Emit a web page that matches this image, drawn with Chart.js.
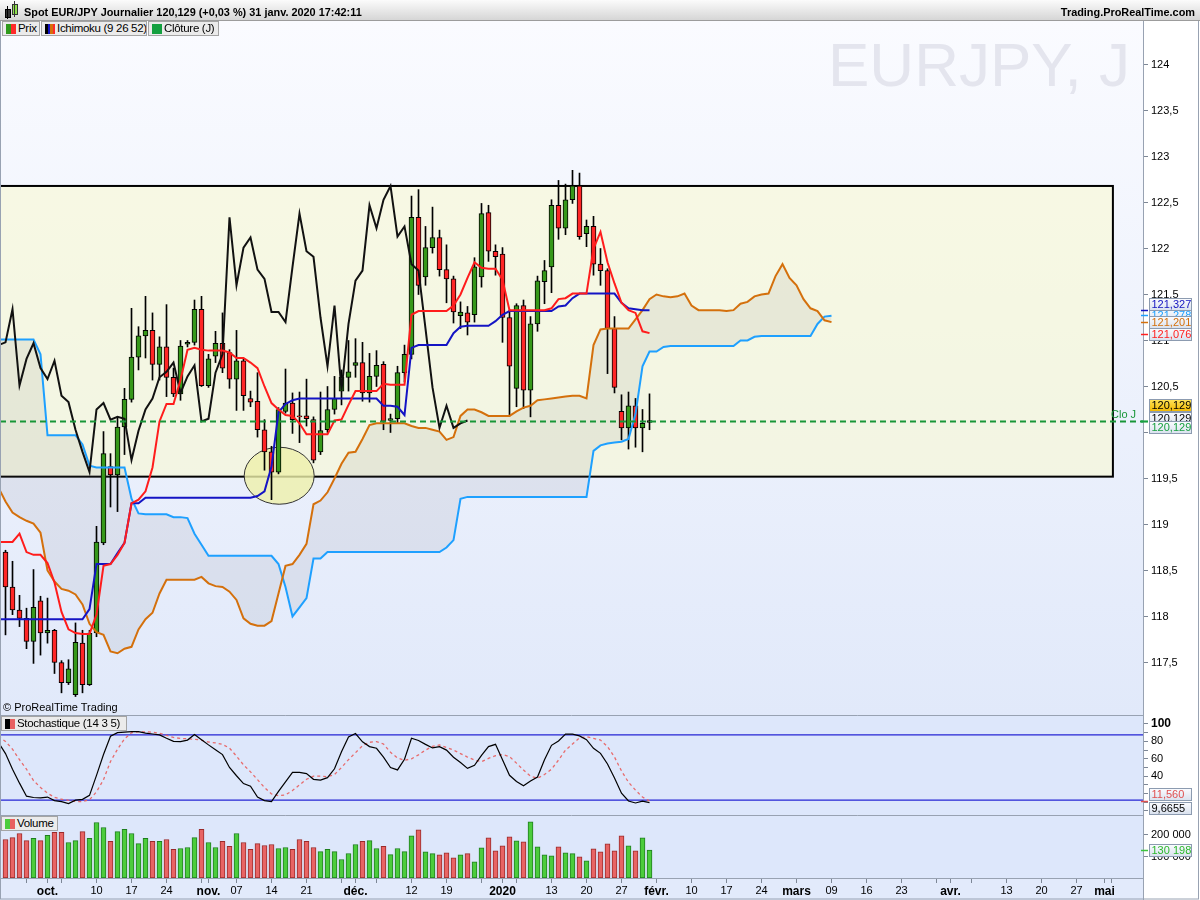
<!DOCTYPE html>
<html><head><meta charset="utf-8">
<script src="https://cdn.jsdelivr.net/npm/chart.js@4.4.1/dist/chart.umd.min.js"></script>
<style>
html,body{margin:0;padding:0;background:#fff;}
body{width:1200px;height:900px;overflow:hidden;position:relative;font-family:"Liberation Sans",Arial,Helvetica,sans-serif;}
#c{position:absolute;left:0;top:0;}
.ov{position:absolute;white-space:nowrap;z-index:5;}
#titlebar{left:0;top:0;width:1200px;height:21px;background:linear-gradient(#fbfbfb,#d6d6d6);border-bottom:1px solid #9c9c9c;box-sizing:border-box;}
#ttext{left:24px;top:2px;font-size:10.9px;font-weight:bold;line-height:20px;color:#000;}
#tright{right:5px;top:2px;font-size:10.9px;font-weight:bold;line-height:20px;color:#000;}
.chip{position:absolute;height:15px;box-sizing:border-box;background:#ebebeb;border:1px solid #a4a4a4;font-size:11.5px;letter-spacing:-0.3px;line-height:13px;color:#000;padding-left:15px;padding-right:2px;z-index:5;white-space:nowrap;overflow:hidden;}
.ico{position:absolute;left:3px;top:2px;width:10px;height:10px;}
#wm{left:828px;top:34px;font-size:62px;line-height:1;color:#e4e5ee;font-weight:normal;}
#copy{left:3px;top:701px;font-size:11px;line-height:13px;color:#000;}
</style>
</head><body>
<canvas id="c" width="1200" height="900"></canvas>
<div id="titlebar" class="ov">
  <div style="position:absolute;left:5px;top:9px;width:4px;height:7px;background:#333;border:1px solid #000;"></div>
  <div style="position:absolute;left:7px;top:6px;width:1px;height:13px;background:#000;"></div>
  <div style="position:absolute;left:12px;top:4px;width:4px;height:9px;background:#8ee04e;border:1px solid #333;"></div>
  <div style="position:absolute;left:14px;top:1px;width:1px;height:16px;background:#333;"></div>
</div>
<div id="ttext" class="ov">Spot EUR/JPY Journalier 120,129 (+0,03 %) 31 janv. 2020 17:42:11</div>
<div id="tright" class="ov">Trading.ProRealTime.com</div>
<div class="chip" style="left:2px;top:21px;width:38px;"><div class="ico" style="background:linear-gradient(90deg,#2f9a1c 50%,#ff2a2a 50%);"></div>Prix</div>
<div class="chip" style="left:41px;top:21px;width:106px;"><div class="ico" style="background:linear-gradient(90deg,#000 25%,#1212c4 25%,#1212c4 50%,#d4700c 50%,#d4700c 75%,#ff2a2a 75%);"></div>Ichimoku (9 26 52)</div>
<div class="chip" style="left:148px;top:21px;width:71px;"><div class="ico" style="background:#14a040;"></div>Clôture (J)</div>
<div id="wm" class="ov">EURJPY, J</div>
<div id="copy" class="ov">© ProRealTime Trading</div>
<div class="chip" style="left:1px;top:716px;width:126px;"><div class="ico" style="background:linear-gradient(90deg,#000 50%,#e86060 50%);"></div>Stochastique (14 3 5)</div>
<div class="chip" style="left:1px;top:816px;width:57px;"><div class="ico" style="background:linear-gradient(90deg,#4ccc3c 50%,#e86060 50%);"></div>Volume</div>
<script>
// ---------------- DATA ----------------
// daily candles, index 0 = 23 sept. 2019 ... index 92 = 31 janv. 2020
const opens = [118.70,118.32,118.07,117.98,117.73,118.17,117.82,117.85,117.50,117.28,
117.15,117.71,117.26,117.82,118.80,119.63,119.54,120.06,120.36,120.82,
121.05,121.11,120.74,120.93,120.60,120.42,120.96,120.98,121.34,120.51,
120.83,120.97,120.87,120.58,120.78,120.37,120.34,120.03,119.79,119.57,
120.23,120.32,120.18,120.18,120.14,119.79,120.03,120.25,120.45,120.60,
120.73,120.76,120.43,120.61,120.74,120.13,120.15,120.65,120.85,122.34,
121.69,122.01,122.12,121.77,121.67,121.27,121.30,121.28,121.69,122.39,
121.97,121.94,121.25,120.48,121.38,120.46,121.18,121.64,121.80,122.47,
122.22,122.53,122.68,122.16,122.24,121.83,121.76,121.13,120.23,120.05,
120.29,120.05,120.11];
const highs = [118.72,118.60,118.23,118.09,118.51,118.22,118.20,117.86,117.52,117.53,
117.93,117.85,117.85,118.98,120.01,119.77,120.17,120.48,121.35,121.15,
121.48,121.30,121.04,121.39,120.70,121.00,121.00,121.44,121.48,120.85,
121.10,121.30,120.90,121.11,120.80,120.45,120.65,120.14,119.85,120.27,
120.69,120.43,120.44,120.58,120.17,120.44,120.50,120.61,120.68,121.00,
121.02,120.98,120.86,120.89,120.77,120.20,120.72,120.95,122.57,122.64,
122.24,122.45,122.20,122.04,121.70,121.42,121.37,121.90,122.49,122.47,
122.04,122.01,121.33,121.40,121.44,121.26,121.70,121.87,122.53,122.74,
122.70,122.85,122.82,122.31,122.35,122.00,121.78,121.26,120.41,120.44,
120.37,120.25,120.42];
const lows = [117.80,118.02,117.89,117.65,117.49,117.58,117.71,117.38,117.17,117.26,
117.13,117.17,117.25,117.78,118.78,119.19,119.14,119.76,120.33,120.68,
120.81,120.57,120.57,120.39,120.39,120.35,120.93,120.95,120.50,120.49,
120.76,120.65,120.48,120.24,120.24,120.28,119.95,119.59,119.27,119.55,
120.21,119.99,119.89,120.07,119.67,119.76,120.00,120.20,120.30,120.45,
120.60,120.34,120.33,120.50,120.03,120.00,120.10,120.55,120.80,121.50,
121.60,121.95,121.70,121.41,121.19,121.13,121.06,121.20,121.58,121.86,
121.71,120.98,120.18,120.28,120.26,120.17,121.10,121.40,121.52,122.10,
122.15,122.49,122.10,122.02,121.71,121.60,120.64,120.43,119.92,119.82,
119.84,119.79,120.03];
const closes = [118.32,118.07,117.98,117.73,118.10,117.82,117.85,117.50,117.28,117.43,
117.72,117.26,117.82,118.81,119.77,119.54,120.06,120.36,120.82,121.05,
121.11,120.74,120.93,120.60,120.42,120.94,120.98,121.34,120.51,120.80,
120.97,120.70,120.58,120.78,120.40,120.33,120.03,119.79,119.57,120.25,
120.32,120.14,120.17,120.15,119.70,120.02,120.25,120.37,120.60,120.66,
120.76,120.43,120.61,120.73,120.12,120.15,120.65,120.85,122.34,121.60,
122.01,122.12,121.77,121.67,121.31,121.31,121.20,121.80,122.38,121.97,
121.91,121.25,120.72,121.38,120.46,121.18,121.65,121.76,122.47,122.22,
122.53,122.68,122.13,122.24,121.83,121.76,121.13,120.49,120.05,120.29,
120.05,120.10,120.129];
// Ichimoku and stochastic lines; they start one session
// before the first visible candle (index -1), the segment entering at the left edge.
const tenkan = [118.81,
118.81,118.81,118.90,118.70,118.67,118.67,118.58,118.37,118.05,117.86,
117.82,117.81,117.81,118.02,118.55,118.57,118.67,118.80,119.23,119.27,
119.36,119.62,120.12,120.31,120.31,120.57,120.90,120.92,120.90,120.89,
120.89,120.89,120.87,120.81,120.81,120.76,120.70,120.50,120.32,120.25,
120.19,120.18,120.10,119.98,119.98,119.98,119.98,120.13,120.14,120.30,
120.45,120.45,120.45,120.45,120.53,120.52,120.52,120.52,121.28,121.32,
121.32,121.32,121.32,121.32,121.38,121.50,121.68,121.85,121.79,121.78,
121.78,121.66,121.33,121.33,121.33,121.33,121.33,121.33,121.35,121.45,
121.46,121.51,121.51,121.51,122.00,122.18,121.85,121.62,121.41,121.33,
121.30,121.10,121.08];
const kijun = [117.97,
117.97,117.97,117.97,117.97,117.97,117.97,117.97,117.97,117.97,117.97,
117.97,117.97,118.08,118.57,118.57,118.57,118.69,118.80,119.23,119.23,
119.29,119.29,119.29,119.29,119.29,119.29,119.29,119.29,119.29,119.29,
119.29,119.29,119.29,119.29,119.29,119.29,119.31,119.36,119.63,120.22,
120.31,120.35,120.37,120.37,120.37,120.37,120.37,120.37,120.37,120.37,
120.37,120.37,120.37,120.37,120.29,120.29,120.28,120.19,120.92,120.95,
120.95,120.95,120.95,120.95,121.08,121.15,121.16,121.16,121.16,121.16,
121.21,121.28,121.32,121.32,121.32,121.32,121.32,121.32,121.32,121.37,
121.38,121.46,121.51,121.51,121.51,121.51,121.51,121.51,121.41,121.35,
121.34,121.33,121.33];
// chikou: index -1 to 66
const chikou = [120.95,
120.98,121.34,120.51,120.80,120.97,120.70,120.58,120.78,120.40,120.33,
120.03,119.79,119.57,120.25,120.32,120.14,120.17,120.15,119.70,120.02,
120.25,120.37,120.60,120.66,120.76,120.43,120.61,120.73,120.12,120.15,
120.65,120.85,122.34,121.60,122.01,122.12,121.77,121.67,121.31,121.31,
121.20,121.80,122.38,121.97,121.91,121.25,120.72,121.38,120.46,121.18,
121.65,121.76,122.47,122.22,122.53,122.68,122.13,122.24,121.83,121.76,
121.13,120.49,120.05,120.29,120.05,120.10,120.13];
// senkou spans: index -1 to 118 (26 sessions ahead)
const senkouA = [119.40,
119.25,119.13,119.08,119.04,119.01,118.91,118.50,118.38,118.30,118.28,
118.24,118.13,117.92,117.83,117.80,117.62,117.60,117.65,117.67,117.86,
117.97,118.04,118.25,118.40,118.40,118.40,118.40,118.40,118.43,118.36,
118.33,118.32,118.27,118.18,117.98,117.92,117.90,117.90,117.95,118.25,
118.55,118.57,118.67,118.79,119.22,119.26,119.35,119.50,119.66,119.78,
119.79,119.93,120.08,120.10,120.10,120.10,120.10,120.10,120.07,120.05,
120.05,120.03,120.01,119.92,119.95,120.18,120.25,120.25,120.22,120.18,
120.18,120.18,120.18,120.23,120.27,120.29,120.35,120.36,120.37,120.38,
120.39,120.40,120.40,120.37,120.95,121.12,121.13,121.13,121.13,121.13,
121.23,121.33,121.45,121.50,121.48,121.47,121.48,121.51,121.38,121.33,
121.33,121.33,121.33,121.32,121.33,121.40,121.42,121.48,121.50,121.51,
121.70,121.83,121.68,121.60,121.45,121.35,121.32,121.22,121.20];
const senkouB = [121.01,
121.01,121.01,121.01,121.01,121.01,120.85,119.97,119.97,119.97,119.97,
119.97,119.87,119.64,119.62,119.62,119.62,119.62,119.62,119.28,119.12,
119.11,119.11,119.11,119.11,119.08,119.08,119.07,118.90,118.78,118.66,
118.66,118.66,118.66,118.66,118.66,118.66,118.66,118.66,118.66,118.57,
118.32,118.00,118.10,118.20,118.63,118.63,118.70,118.70,118.70,118.70,
118.70,118.70,118.70,118.70,118.70,118.70,118.70,118.70,118.70,118.70,
118.70,118.70,118.70,118.75,118.83,119.28,119.30,119.30,119.30,119.30,
119.30,119.30,119.30,119.30,119.30,119.30,119.30,119.30,119.30,119.30,
119.30,119.30,119.30,119.30,119.80,119.86,119.88,119.89,119.90,119.93,
120.20,120.72,120.88,120.88,120.93,120.94,120.94,120.94,120.94,120.94,
120.94,120.94,120.94,120.94,120.94,121.00,121.00,121.04,121.05,121.05,
121.05,121.05,121.05,121.05,121.05,121.05,121.18,121.26,121.27];
// stochastic (14 3 5), index -1 to 92
const stochK = [78.6,
66,48,32,17,15.5,15,16,12,10.7,8.5,
12.5,13.4,18,41,65,86,90,90.7,91.2,91.2,
89.5,88.5,87.5,83.6,80,79.7,81.5,88,82,76,
70.5,64.8,50,40.5,31.5,28.5,16,12,10.8,22.5,
33.5,44.3,44.3,43,36.4,35.6,38.3,48.5,68,85,
89,79.5,74,72.1,62,50,47.2,59.5,83.6,81,
76.6,72.5,73.9,70,61.8,55.8,49,52.5,64,74,
76.6,59,41,34,29,34.5,39,59,75.5,80.5,
88.5,88.3,86.3,82,72,66.3,54,38,20.5,11.5,
9.2,11.3,9.6655];
const stochD = [85.7,
80,71,59,48,35,27,20.5,15.7,13.5,12.3,
11,10.8,13,22,36,57,71,83,90,91,
91,90.5,89.4,87,84.5,83.4,83,82.5,81.5,79.3,
78.3,76.5,72.3,63,53,45,36,27,19.5,17.5,
18.5,23.5,30,36.5,40,40,39.4,42,50,59,
67,75,79,79.7,77,67.5,61,58.3,60,64.5,
70,74.3,75.9,73,70,66,62,58.5,56.7,60.5,
63.5,65,62.5,55,47,40,37.6,42,48,58.5,
70,77,84,85.4,83.5,81.5,74,62,46,33,
24,16,11.56];
const stochLevels = [87.5, 12.6];
// volume (units), index 0 to 92
const volume = [179000,188000,207000,174000,184000,174000,198000,212000,212000,165000,
174000,216000,184000,258000,235000,170000,216000,226000,207000,160000,
184000,170000,170000,179000,133000,137000,142000,188000,226000,165000,
142000,170000,147000,207000,165000,133000,160000,151000,156000,137000,
142000,133000,179000,170000,142000,123000,133000,123000,86000,114000,
156000,170000,174000,137000,147000,109000,137000,123000,196000,224000,
122000,113000,108000,117000,94000,108000,113000,75000,140000,187000,
126000,150000,192000,173000,168000,261000,145000,108000,103000,145000,
117000,113000,99000,80000,136000,122000,159000,126000,196000,150000,
126000,187000,130198];
// axis ticks (session index) and their labels
const xTickIdx = [3,6,8,13,18,23,28,29,33,38,43,48,50,53,58,63,68,71,73,78,83,88,93,98,103,108,113,118,123,128,133,135,138,143,148,153,157,158];
const xTickText = ['','oct.','','10','17','24','','nov.','07','14','21','','déc.','','12','19','','2020','','13','20','27','févr.','10','17','24','mars','09','16','23','','avr.','','13','20','27','mai',''];
const monthIdx = [6,29,50,71,93,113,135,157];
const priceTicks = [117.5,118,118.5,119,119.5,120,120.5,121,121.5,122,122.5,123,123.5,124];
const stochTicks = [0,10,20,30,40,50,60,70,80,90,100];
const stochLabeled = [40,60,80,100];
const volTicks = [100000,200000];
// drawn objects (data units)
const zoneX = [-0.9, 158.2];
const zonePrice = [119.52, 122.68];
const ellipseCenter = [39.1, 119.53];
const ellipseRadius = [5.0, 0.31];
const lastClose = 120.129;
// right-axis value tags
const tagTexts  = ['121,278','121,327','121,201','121,076','120,129','120,129','120,129'];
const tagValues = [121.278, 121.327, 121.201, 121.076, 120.129, 120.129, 120.129];
const tagColors = ['#1ea0ff','#1414c0','#d4700c','#ff2020','#000','#000','#18a040'];
const tagShift  = [0,-6,0,0,-3,-16,6];
const stochTagTexts = ['11,560','9,6655'];
const stochTagValues = [11.56, 9.6655];
const volTagText = '130 198';

// ---------------- CHART ----------------
const FONT = '"Liberation Sans", Arial, Helvetica, sans-serif';
Chart.defaults.font.family = FONT;
Chart.defaults.color = '#000';

const pts = (arr, start) => arr.map((v, i) => ({x: i + start, y: v}));
const up = closes.map((c, i) => c >= opens[i]);
const wickData = closes.map((c, i) => ({x: i, y: [lows[i], highs[i]]}));
const bodyData = closes.map((c, i) => ({x: i, y: [opens[i], c]}));
const volData = volume.map((v, i) => ({x: i, y: v}));

const GRID = '#7d8796';
const BORDER = '#98a2b2';

function tag(ctx, text, yc, color, yellow) {
  const x = 1149, w = 42, h = 12;
  const y = Math.round(yc - h / 2) + 0.5;
  const g = ctx.createLinearGradient(0, y, 0, y + h);
  if (yellow) { g.addColorStop(0, '#ffe45a'); g.addColorStop(1, '#f2b800'); }
  else { g.addColorStop(0, '#fbfcff'); g.addColorStop(1, '#d9e1ee'); }
  ctx.fillStyle = g;
  ctx.fillRect(x + 0.5, y, w, h);
  ctx.strokeStyle = '#8c9bb0';
  ctx.lineWidth = 1;
  ctx.strokeRect(x + 0.5, y, w, h);
  ctx.fillStyle = color;
  ctx.font = '11px ' + FONT;
  ctx.textBaseline = 'middle';
  ctx.textAlign = 'left';
  ctx.fillText(text, x + 2.5, y + h / 2 + 0.5);
}
function mark(ctx, yv, color) {
  ctx.strokeStyle = color; ctx.lineWidth = 1.5;
  ctx.beginPath(); ctx.moveTo(1141, Math.round(yv) + 0.5); ctx.lineTo(1148, Math.round(yv) + 0.5); ctx.stroke();
}

const deco = {
  id: 'deco',
  beforeDraw(chart) {
    const {ctx, chartArea: a, scales} = chart;
    const x = scales.x, yP = scales.y, yS = scales.yS, yV = scales.yV;
    ctx.save();
    ctx.fillStyle = '#fff';
    ctx.fillRect(0, 0, chart.width, chart.height);
    const g = ctx.createLinearGradient(0, yP.top, 0, yP.bottom);
    g.addColorStop(0, 'rgb(250,251,255)');
    g.addColorStop(1, 'rgb(225,233,250)');
    ctx.fillStyle = g;
    ctx.fillRect(a.left, yP.top, a.right - a.left, yP.bottom - yP.top);
    ctx.fillStyle = 'rgb(221,231,251)';
    ctx.fillRect(a.left, yS.top, a.right - a.left, yS.bottom - yS.top);
    ctx.fillRect(a.left, yV.top, a.right - a.left, yV.bottom - yV.top);
    ctx.fillStyle = 'rgb(226,234,251)';
    ctx.fillRect(a.left, a.bottom, a.right - a.left, chart.height - a.bottom);
    // zone rectangle
    const rx0 = x.getPixelForValue(zoneX[0]), rx1 = x.getPixelForValue(zoneX[1]);
    const ry0 = yP.getPixelForValue(zonePrice[1]), ry1 = yP.getPixelForValue(zonePrice[0]);
    ctx.fillStyle = 'rgba(250,250,205,0.55)';
    ctx.fillRect(rx0, ry0, rx1 - rx0, ry1 - ry0);
    ctx.strokeStyle = '#000';
    ctx.lineWidth = 2;
    ctx.strokeRect(rx0, ry0, rx1 - rx0, ry1 - ry0);
    // ellipse
    const ex = x.getPixelForValue(ellipseCenter[0]), ey = yP.getPixelForValue(ellipseCenter[1]);
    const erx = x.getPixelForValue(ellipseCenter[0] + ellipseRadius[0]) - ex;
    const ery = ey - yP.getPixelForValue(ellipseCenter[1] + ellipseRadius[1]);
    ctx.beginPath();
    ctx.ellipse(ex, ey, erx, ery, 0, 0, Math.PI * 2);
    ctx.fillStyle = 'rgba(238,240,170,0.8)';
    ctx.fill();
    ctx.lineWidth = 1;
    ctx.strokeStyle = '#333';
    ctx.stroke();
    ctx.restore();
  },
  afterDatasetsDraw(chart) {
    const {ctx, chartArea: a, scales} = chart;
    const yP = scales.y;
    ctx.save();
    const yc = Math.round(yP.getPixelForValue(lastClose)) + 0.5;
    ctx.strokeStyle = 'rgb(24,150,56)';
    ctx.lineWidth = 2;
    ctx.setLineDash([6, 4]);
    ctx.beginPath(); ctx.moveTo(a.left, yc); ctx.lineTo(a.right, yc); ctx.stroke();
    ctx.setLineDash([]);
    ctx.fillStyle = 'rgb(24,150,56)';
    ctx.font = '11px ' + FONT;
    ctx.textBaseline = 'alphabetic';
    ctx.fillText('Clo J', 1111, yc - 4);
    // panel separators
    ctx.strokeStyle = BORDER;
    ctx.lineWidth = 1;
    [scales.yS.top, scales.yV.top].forEach(t => {
      ctx.beginPath(); ctx.moveTo(a.left, Math.round(t) + 0.5); ctx.lineTo(a.right, Math.round(t) + 0.5); ctx.stroke();
    });
    ctx.restore();
  },
  afterDraw(chart) {
    const {ctx, chartArea: a, scales} = chart;
    const yP = scales.y, yS = scales.yS, yV = scales.yV;
    ctx.save();
    ctx.strokeStyle = BORDER;
    ctx.lineWidth = 1;
    ctx.beginPath();
    ctx.moveTo(Math.round(a.right) + 0.5, a.top); ctx.lineTo(Math.round(a.right) + 0.5, chart.height);
    ctx.stroke();
    ctx.strokeRect(0.5, 20.5, chart.width - 2, chart.height - 21.5);
    // value tags
    tagValues.forEach((v, i) => mark(ctx, yP.getPixelForValue(v), tagColors[i] === '#000' ? '#18a040' : tagColors[i]));
    tagValues.forEach((v, i) => {
      tag(ctx, tagTexts[i], yP.getPixelForValue(v) + tagShift[i], tagColors[i], i === 5);
    });
    mark(ctx, yS.getPixelForValue(stochTagValues[0]), '#e05050');
    tag(ctx, stochTagTexts[0], yS.getPixelForValue(stochTagValues[0]) - 7, '#e05050', false);
    tag(ctx, stochTagTexts[1], yS.getPixelForValue(stochTagValues[1]) + 5, '#000', false);
    const vy = yV.getPixelForValue(volume[volume.length - 1]);
    mark(ctx, vy, '#3cc43c');
    tag(ctx, volTagText, vy, '#2cb82c', false);
    ctx.restore();
  }
};

const yCommon = {
  type: 'linear', position: 'right', stack: 'panels',
  afterFit(s) { s.width = 57; },
  grid: {drawOnChartArea: false, drawTicks: true, tickLength: 5, color: GRID},
  border: {display: true, color: BORDER}
};

new Chart(document.getElementById('c'), {
  type: 'bar',
  data: {
    datasets: [
      {type: 'line', label: 'Senkou A', data: pts(senkouA, -1), yAxisID: 'y', borderColor: '#d4700c', borderWidth: 2,
        pointRadius: 0, tension: 0, fill: '+1', backgroundColor: 'rgba(105,105,115,0.10)', order: 6},
      {type: 'line', label: 'Senkou B', data: pts(senkouB, -1), yAxisID: 'y', borderColor: '#1ea0ff', borderWidth: 2,
        pointRadius: 0, tension: 0, fill: false, order: 6},
      {type: 'line', label: 'Chikou', data: pts(chikou, -1), yAxisID: 'y', borderColor: '#111', borderWidth: 2,
        pointRadius: 0, tension: 0, fill: false, order: 5},
      {type: 'line', label: 'Kijun', data: pts(kijun, -1), yAxisID: 'y', borderColor: '#1414c4', borderWidth: 2,
        pointRadius: 0, tension: 0, fill: false, order: 4},
      {type: 'line', label: 'Tenkan', data: pts(tenkan, -1), yAxisID: 'y', borderColor: '#ff1c1c', borderWidth: 2,
        pointRadius: 0, tension: 0, fill: false, order: 3},
      {type: 'bar', label: 'Mèches', data: wickData, yAxisID: 'y', backgroundColor: '#000', borderWidth: 0,
        barThickness: 1, grouped: false, order: 21},
      {type: 'bar', label: 'Prix', data: bodyData, yAxisID: 'y',
        backgroundColor: up.map(u => u ? '#36981a' : '#ff2626'), borderColor: '#000', borderWidth: 1,
        borderSkipped: false, barThickness: 5, grouped: false, order: 20},
      {type: 'line', label: 'Niveaux', data: [{x: -1, y: stochLevels[0]}, {x: 163, y: stochLevels[0]}], yAxisID: 'yS',
        borderColor: '#2424d4', borderWidth: 1.2, pointRadius: 0, fill: false, order: 9},
      {type: 'line', label: 'Niveaux2', data: [{x: -1, y: stochLevels[1]}, {x: 163, y: stochLevels[1]}], yAxisID: 'yS',
        borderColor: '#2424d4', borderWidth: 1.2, pointRadius: 0, fill: false, order: 9},
      {type: 'line', label: '%D', data: pts(stochD, -1), yAxisID: 'yS', borderColor: 'rgba(232,100,100,0.95)', borderWidth: 1.3,
        borderDash: [3, 3], pointRadius: 0, tension: 0, fill: false, order: 2},
      {type: 'line', label: '%K', data: pts(stochK, -1), yAxisID: 'yS', borderColor: '#000', borderWidth: 1.2,
        pointRadius: 0, tension: 0, fill: false, order: 1},
      {type: 'bar', label: 'Volume', data: volData, yAxisID: 'yV',
        backgroundColor: up.map(u => u ? '#4ccc3c' : '#e86464'),
        borderColor: up.map(u => u ? '#1e7e1e' : '#9a2a2a'), borderWidth: 1, borderSkipped: false,
        barThickness: 5, grouped: false, order: 10}
    ]
  },
  options: {
    responsive: false,
    animation: false,
    events: [],
    layout: {padding: {top: 20, left: 0, right: 0, bottom: 0}},
    plugins: {legend: {display: false}, tooltip: {enabled: false}, filler: {drawTime: 'beforeDatasetsDraw'}},
    scales: {
      x: {
        type: 'linear', position: 'bottom', min: -0.786, max: 162.5, offset: false,
        afterFit(s) { s.height = 22; },
        afterBuildTicks(s) { s.ticks = xTickIdx.map(v => ({value: v})); },
        grid: {drawOnChartArea: false, drawTicks: true, tickLength: 5, color: GRID, offset: false},
        border: {display: true, color: BORDER},
        ticks: {
          autoSkip: false, maxRotation: 0, minRotation: 0, padding: 1, color: '#000',
          callback: v => { const k = xTickIdx.indexOf(v); return k < 0 ? '' : xTickText[k]; },
          font: c => (c.tick && monthIdx.includes(c.tick.value)) ? {size: 12, weight: 'bold'} : {size: 11}
        }
      },
      y: Object.assign({}, yCommon, {
        stackWeight: 695, min: 116.929, max: 124.484,
        afterBuildTicks(s) { s.ticks = priceTicks.map(v => ({value: v})); },
        ticks: {autoSkip: false, padding: 3, color: '#000', font: {size: 11},
          callback: v => v === 120 ? '' : String(v).replace('.', ',')}
      }),
      yS: Object.assign({}, yCommon, {
        stackWeight: 100, min: -4.6, max: 110.34,
        afterBuildTicks(s) { s.ticks = stochTicks.map(v => ({value: v})); },
        ticks: {autoSkip: false, padding: 3, color: '#000',
          font: c => (c.tick && c.tick.value === 100) ? {size: 12, weight: 'bold'} : {size: 11},
          callback: v => stochLabeled.includes(v) ? String(v) : ''}
      }),
      yV: Object.assign({}, yCommon, {
        stackWeight: 63, min: 0, max: 293000,
        afterBuildTicks(s) { s.ticks = volTicks.map(v => ({value: v})); },
        ticks: {autoSkip: false, padding: 3, color: '#000', font: {size: 11},
          callback: v => String(v / 1000) + ' 000'}
      })
    }
  },
  plugins: [deco]
});
</script>
</body></html>
